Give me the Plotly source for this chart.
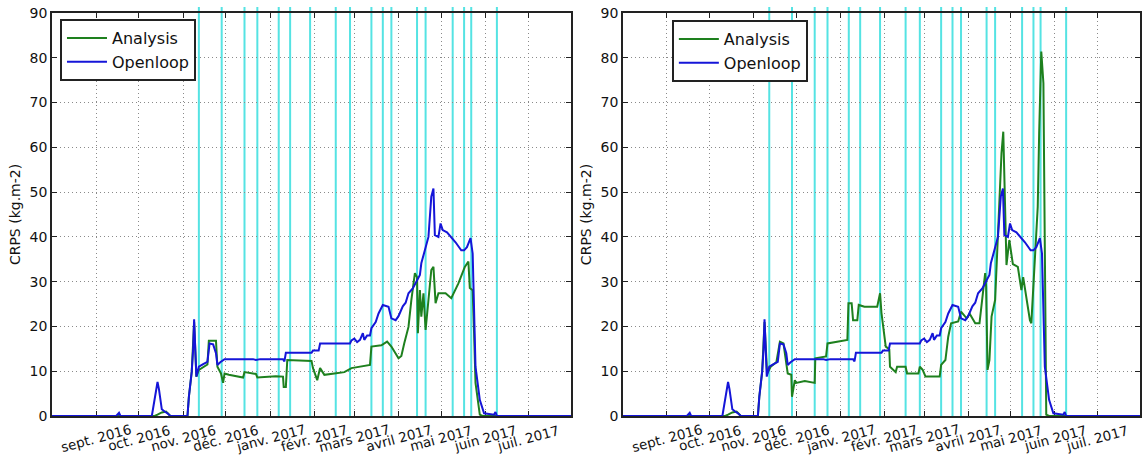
import plotly.graph_objects as go

# ---- data -------------------------------------------------------------
month_ticks = ["2016-09-01", "2016-10-01", "2016-11-01", "2016-12-01", "2017-01-01",
               "2017-02-01", "2017-03-01", "2017-04-01", "2017-05-01", "2017-06-01",
               "2017-07-01"]
month_labels = ["sept. 2016", "oct. 2016", "nov. 2016", "déc. 2016", "janv. 2017",
                "févr. 2017", "mars 2017", "avril 2017", "mai 2017", "juin 2017",
                "juil. 2017"]

# assimilation dates (vertical markers)
assim_dates = ["2016-11-12", "2016-11-28", "2016-12-14", "2016-12-23", "2017-01-07",
               "2017-01-15", "2017-01-29", "2017-02-16", "2017-02-26", "2017-03-13",
               "2017-03-21", "2017-03-27", "2017-04-14", "2017-04-20", "2017-05-09",
               "2017-05-17", "2017-05-22", "2017-06-09"]

# open-loop run (same in both panels)
openloop_dates = [
    "2016-08-01", "2016-09-15", "2016-09-17", "2016-09-18", "2016-10-10", "2016-10-12",
    "2016-10-14", "2016-10-15", "2016-10-16", "2016-10-17", "2016-10-19", "2016-10-21",
    "2016-10-23", "2016-11-04", "2016-11-05", "2016-11-07", "2016-11-08", "2016-11-08 16:00",
    "2016-11-10 06:00", "2016-11-12", "2016-11-15", "2016-11-18", "2016-11-19 12:00",
    "2016-11-22", "2016-11-24", "2016-11-25", "2016-11-27", "2016-11-30", "2016-12-20",
    "2016-12-22", "2016-12-25", "2017-01-10", "2017-01-11", "2017-01-12", "2017-01-30",
    "2017-01-31", "2017-02-04", "2017-02-05", "2017-02-26", "2017-02-27", "2017-03-01",
    "2017-03-03", "2017-03-05", "2017-03-07", "2017-03-08", "2017-03-10", "2017-03-12",
    "2017-03-13", "2017-03-16", "2017-03-18", "2017-03-21", "2017-03-25", "2017-03-27",
    "2017-03-30", "2017-04-01", "2017-04-04", "2017-04-06", "2017-04-08", "2017-04-11",
    "2017-04-14", "2017-04-16", "2017-04-17", "2017-04-20", "2017-04-22", "2017-04-24",
    "2017-04-25 12:00", "2017-04-26 12:00", "2017-04-29", "2017-04-30 12:00", "2017-05-02",
    "2017-05-05", "2017-05-08", "2017-05-11", "2017-05-15", "2017-05-17", "2017-05-19",
    "2017-05-21 12:00", "2017-05-23", "2017-05-24", "2017-05-25", "2017-05-28",
    "2017-05-31", "2017-06-07", "2017-06-08", "2017-06-09", "2017-07-31"]
openloop_crps = [
    0, 0, 0.7, 0, 0, 4.0,
    7.6, 6.0, 3.2, 1.5, 1.0, 0.6,
    0, 0, 4.3, 9.9, 15.0, 21.6,
    8.8, 11.0, 11.6, 12.1, 16.2,
    16.0, 14.0, 11.4, 12.0, 12.7, 12.7,
    12.5, 12.7, 12.7, 12.2, 14.1, 14.1,
    14.6, 14.6, 16.2, 16.2, 16.9, 17.3,
    16.5, 17.0, 18.5, 17.0, 18.0, 18.0,
    19.6, 21.0, 22.9, 24.8, 24.4, 21.8,
    21.4, 22.3, 24.5, 25.3, 27.4, 28.5,
    30.4, 31.5, 34.1, 37.4, 40.0, 49.0,
    50.8, 40.4, 40.0, 43.0, 41.5,
    41.0, 40.0, 38.8, 37.0, 37.0, 37.7,
    39.7, 36.3, 25.9, 11.0, 3.6,
    0.6, 0.3, 0.9, 0, 0]

# analysis, first experiment (left panel)
analysis_a_dates = [
    "2016-08-01", "2016-10-12", "2016-10-14", "2016-10-17", "2016-10-20", "2016-10-23",
    "2016-11-04", "2016-11-05", "2016-11-07", "2016-11-08", "2016-11-08 16:00",
    "2016-11-10 06:00", "2016-11-12", "2016-11-18", "2016-11-19", "2016-11-24",
    "2016-11-25", "2016-11-27 12:00", "2016-11-29", "2016-11-30", "2016-12-03",
    "2016-12-13", "2016-12-14", "2016-12-22", "2016-12-23", "2017-01-05", "2017-01-10",
    "2017-01-10 12:00", "2017-01-12", "2017-01-13", "2017-01-30", "2017-01-31",
    "2017-02-03", "2017-02-05", "2017-02-08", "2017-02-15", "2017-02-22", "2017-02-27",
    "2017-03-04", "2017-03-12", "2017-03-13", "2017-03-20", "2017-03-24", "2017-03-27",
    "2017-04-01", "2017-04-03", "2017-04-05", "2017-04-08", "2017-04-10", "2017-04-12 12:00",
    "2017-04-14", "2017-04-14 14:00", "2017-04-16", "2017-04-17", "2017-04-18 12:00",
    "2017-04-20", "2017-04-22", "2017-04-24", "2017-04-25 12:00", "2017-04-27",
    "2017-04-29", "2017-05-04", "2017-05-08", "2017-05-13", "2017-05-17 12:00",
    "2017-05-20", "2017-05-21", "2017-05-23", "2017-05-24", "2017-05-25", "2017-05-28",
    "2017-05-30", "2017-07-31"]
analysis_a_crps = [
    0, 0, 0.3, 0.8, 1.0, 0,
    0, 4.3, 9.9, 15.0, 21.0,
    8.8, 10.3, 11.5, 16.8, 16.8,
    11.0, 9.5, 7.4, 9.5, 9.2,
    8.6, 9.8, 9.4, 8.6, 8.9, 8.8,
    6.5, 6.5, 12.5, 12.3, 10.7,
    8.0, 10.7, 9.2, 9.5, 9.8, 10.7,
    11.0, 11.4, 15.5, 15.8, 16.6, 15.5,
    12.9, 13.4, 16.2, 19.9, 25.9, 31.9,
    31.0, 18.5, 28.1, 22.2, 27.4,
    19.2, 25.9, 32.6, 33.3, 25.2,
    27.4, 27.4, 26.3, 29.6, 33.3,
    34.5, 28.6, 28.1, 18.5, 7.4, 0.3,
    0, 0]

# analysis, second experiment (right panel)
analysis_b_dates = [
    "2016-08-01", "2016-10-12", "2016-10-14", "2016-10-17", "2016-10-20", "2016-10-23",
    "2016-11-04", "2016-11-05", "2016-11-07", "2016-11-08", "2016-11-08 16:00",
    "2016-11-10 12:00", "2016-11-13", "2016-11-17", "2016-11-19 12:00", "2016-11-22",
    "2016-11-24", "2016-11-25", "2016-11-27 12:00", "2016-11-28", "2016-11-30",
    "2016-12-01", "2016-12-07", "2016-12-14", "2016-12-14 10:00", "2016-12-22",
    "2016-12-23", "2016-12-30", "2017-01-06", "2017-01-06 18:00", "2017-01-09",
    "2017-01-10", "2017-01-13", "2017-01-14", "2017-01-18", "2017-01-27", "2017-01-29",
    "2017-01-30", "2017-02-02", "2017-02-04 12:00", "2017-02-05", "2017-02-09",
    "2017-02-10", "2017-02-16", "2017-02-17", "2017-02-25", "2017-02-26", "2017-02-28",
    "2017-03-02", "2017-03-12", "2017-03-13", "2017-03-16", "2017-03-18", "2017-03-20",
    "2017-03-25", "2017-03-27", "2017-03-31", "2017-04-02", "2017-04-06", "2017-04-09",
    "2017-04-11 12:00", "2017-04-13", "2017-04-13 16:00", "2017-04-14 16:00", "2017-04-16",
    "2017-04-17 12:00", "2017-04-20", "2017-04-22", "2017-04-24 12:00", "2017-04-25 18:00",
    "2017-04-27", "2017-04-28", "2017-04-30", "2017-05-02 12:00", "2017-05-06",
    "2017-05-08 12:00", "2017-05-09 18:00", "2017-05-12", "2017-05-14 12:00",
    "2017-05-15 12:00", "2017-05-17", "2017-05-19", "2017-05-20", "2017-05-21",
    "2017-05-22 12:00", "2017-05-24", "2017-05-24 12:00", "2017-05-25", "2017-05-26",
    "2017-05-28", "2017-07-31"]
analysis_b_crps = [
    0, 0, 0.3, 0.8, 1.0, 0,
    0, 4.3, 9.9, 15.0, 21.0,
    9.5, 11.0, 12.0, 16.6, 16.2,
    11.0, 9.5, 9.2, 4.3, 8.0,
    7.4, 7.8, 7.4, 12.9, 13.3,
    16.2, 16.6, 17.0, 25.2, 25.2,
    21.4, 21.4, 24.8, 24.4, 24.4, 27.4,
    23.0, 15.5, 14.9, 11.0, 9.8,
    11.0, 11.0, 9.5, 9.5, 11.0, 10.3,
    8.8, 8.8, 11.4, 12.5, 17.7, 20.7,
    21.1, 23.3, 21.8, 22.9, 20.7, 20.7,
    27.4, 31.9, 28.9, 10.3, 12.5,
    22.2, 25.9, 40.8, 58.7, 63.5,
    46.7, 33.7, 39.3, 33.9, 33.3,
    28.1, 31.0, 25.9, 21.4,
    20.7, 29.6, 42.3, 46.7, 63.1,
    81.4, 74.3, 59.4, 33.3, 0.3,
    0, 0]

# ---- styling ----------------------------------------------------------
FONT = "DejaVu Sans"
GREEN = "#1e801e"
BLUE = "#1515d8"
CYAN = "#55e3e3"
FRAME = "#222222"
GRID = "#8a8a8a"

W, H = 1145, 464
ML, MR, MT, MB = 52, 3, 13, 48
PW, PH = W - ML - MR, H - MT - MB


def px_x(px):
    return (px - ML) / PW


def px_y(py):
    return 1 - (py - MT) / PH


fig = go.Figure()

panels = [("x", "y", "legend", analysis_a_dates, analysis_a_crps),
          ("x2", "y2", "legend2", analysis_b_dates, analysis_b_crps)]
for xa, ya, leg, a_dates, a_vals in panels:
    fig.add_trace(go.Scatter(x=a_dates, y=a_vals, mode="lines", name="Analysis",
                             line=dict(color=GREEN, width=2), xaxis=xa, yaxis=ya,
                             legend=leg))
    fig.add_trace(go.Scatter(x=openloop_dates, y=openloop_crps, mode="lines",
                             name="Openloop", line=dict(color=BLUE, width=2),
                             xaxis=xa, yaxis=ya, legend=leg))

common_x = dict(type="date", range=["2016-08-01", "2017-07-31"], tickvals=month_ticks,
                showticklabels=False, ticks="inside", ticklen=5, tickcolor=FRAME,
                mirror="allticks", showline=True, linecolor=FRAME, linewidth=1.5,
                showgrid=True, gridcolor=GRID, griddash="1px,3px", gridwidth=1,
                zeroline=False, layer="below traces")
common_y = dict(range=[0, 90], tickvals=list(range(0, 91, 10)), ticks="inside",
                ticklen=5, tickcolor=FRAME, mirror="allticks", showline=True,
                linecolor=FRAME, linewidth=1.5, showgrid=True, gridcolor=GRID,
                griddash="1px,3px", gridwidth=1, zeroline=False, layer="below traces",
                tickfont=dict(size=14, color="#111"),
                title=dict(text="CRPS (kg.m-2)", font=dict(size=14, color="#111"),
                           standoff=6))

left_dom = [0, px_x(572)]
right_dom = [px_x(624), 1]

legend_style = dict(xanchor="left", yanchor="top", bgcolor="white", bordercolor=FRAME,
                    borderwidth=2, font=dict(family=FONT, size=16, color="#111"),
                    itemwidth=40, tracegroupgap=0)

fig.update_layout(
    width=W, height=H,
    margin=dict(l=ML, r=MR, t=MT, b=MB),
    paper_bgcolor="white", plot_bgcolor="white",
    font=dict(family=FONT, color="#111"),
    xaxis=dict(domain=left_dom, anchor="y", **common_x),
    yaxis=dict(domain=[0, 1], anchor="x", **common_y),
    xaxis2=dict(domain=right_dom, anchor="y2", **common_x),
    yaxis2=dict(domain=[0, 1], anchor="x2", **common_y),
    legend=dict(x=px_x(60), y=px_y(19), **legend_style),
    legend2=dict(x=px_x(673), y=px_y(20), **legend_style),
    showlegend=True,
)

# assimilation markers
shapes = []
for xr in ("x", "x2"):
    for d in assim_dates:
        shapes.append(dict(type="line", xref=xr, yref="paper", x0=d, x1=d,
                           y0=0, y1=px_y(7), line=dict(color=CYAN, width=2),
                           layer="below"))
fig.update_layout(shapes=shapes)

# month labels centred under the ticks
annotations = []
for xr in ("x", "x2"):
    for d, lab in zip(month_ticks, month_labels):
        annotations.append(dict(x=d, xref=xr, y=px_y(438), yref="paper", text=lab,
                                showarrow=False, textangle=-15, xanchor="center",
                                yanchor="middle",
                                font=dict(family=FONT, size=13.5, color="#111")))
fig.update_layout(annotations=annotations)

fig.write_html("out.html")
